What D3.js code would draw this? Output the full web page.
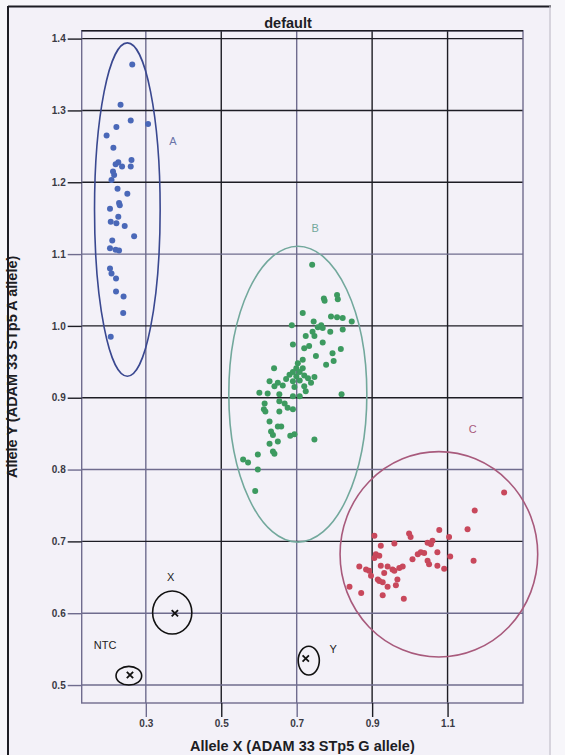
<!DOCTYPE html>
<html>
<head>
<meta charset="utf-8">
<script src="https://cdn.jsdelivr.net/npm/d3@7"></script>
<style>
  html, body { margin: 0; padding: 0; background: #f7f6fa; }
  svg { display: block; font-family: "Liberation Sans", Arial, sans-serif; }
</style>
</head>
<body>
<svg id="chart"></svg>
<script>
// cluster A (blue), B (green), C (red): [allele X, allele Y]
var pointsA = [[0.264,1.364],[0.233,1.308],[0.260,1.286],[0.306,1.281],[0.222,1.277],[0.196,1.265],
  [0.214,1.248],[0.227,1.228],[0.220,1.225],[0.237,1.222],[0.262,1.231],[0.260,1.222],[0.216,1.210],
  [0.209,1.203],[0.213,1.215],[0.225,1.191],[0.251,1.184],[0.231,1.168],[0.229,1.171],[0.205,1.163],
  [0.227,1.152],[0.207,1.145],[0.222,1.143],[0.244,1.139],[0.269,1.125],[0.211,1.119],[0.205,1.108],
  [0.220,1.106],[0.229,1.105],[0.205,1.080],[0.209,1.073],[0.221,1.066],[0.221,1.048],[0.241,1.041],
  [0.240,1.018],[0.207,0.985]];

var pointsB = [[0.741,1.085],[0.772,1.038],[0.774,1.035],[0.807,1.043],[0.809,1.037],[0.716,1.018],
  [0.791,1.013],[0.807,1.012],[0.822,1.011],[0.846,1.006],[0.745,1.006],[0.765,1.001],[0.769,0.997],
  [0.756,0.998],[0.687,1.001],[0.822,0.995],[0.789,0.992],[0.742,0.992],[0.724,0.986],[0.747,0.986],
  [0.769,0.977],[0.733,0.972],[0.720,0.969],[0.817,0.968],[0.795,0.962],[0.690,0.974],[0.751,0.958],
  [0.716,0.953],[0.703,0.948],[0.778,0.946],[0.798,0.951],[0.640,0.941],[0.699,0.941],[0.690,0.936],
  [0.708,0.936],[0.716,0.941],[0.681,0.932],[0.699,0.930],[0.720,0.931],[0.747,0.929],[0.672,0.926],
  [0.690,0.923],[0.708,0.924],[0.730,0.927],[0.628,0.923],[0.650,0.921],[0.663,0.917],[0.641,0.916],
  [0.694,0.915],[0.720,0.916],[0.738,0.921],[0.601,0.907],[0.623,0.906],[0.654,0.905],[0.724,0.909],
  [0.708,0.902],[0.690,0.902],[0.819,0.905],[0.654,0.895],[0.668,0.892],[0.615,0.892],[0.676,0.886],
  [0.690,0.884],[0.654,0.881],[0.613,0.884],[0.617,0.881],[0.628,0.867],[0.650,0.860],[0.632,0.853],
  [0.659,0.860],[0.637,0.848],[0.694,0.849],[0.683,0.847],[0.628,0.836],[0.650,0.839],[0.747,0.842],
  [0.637,0.825],[0.641,0.822],[0.597,0.821],[0.558,0.814],[0.571,0.810],[0.597,0.800],[0.590,0.770]];

var pointsC = [[1.250,0.768],[1.172,0.743],[1.153,0.717],[1.078,0.716],[0.998,0.711],[1.002,0.706],
  [0.906,0.708],[1.104,0.706],[1.047,0.698],[1.060,0.701],[1.056,0.696],[0.959,0.697],[0.923,0.694],
  [1.073,0.685],[0.910,0.682],[0.919,0.680],[0.906,0.677],[1.029,0.685],[1.038,0.684],[1.021,0.682],
  [1.107,0.679],[1.007,0.675],[1.169,0.673],[1.047,0.673],[1.051,0.668],[1.073,0.666],[0.866,0.665],
  [0.884,0.661],[0.892,0.659],[0.923,0.666],[0.941,0.665],[0.954,0.661],[0.972,0.663],[0.981,0.665],
  [1.091,0.662],[0.932,0.656],[0.959,0.659],[0.897,0.652],[0.915,0.647],[0.928,0.643],[0.919,0.645],
  [0.967,0.647],[0.963,0.639],[0.840,0.637],[0.941,0.637],[0.871,0.628],[0.928,0.625],[0.984,0.620]];

// cluster ellipses A, B, C
var clusterNames = ["A", "B", "C"];
var ellipseCx = [0.251, 0.703, 1.077];
var ellipseCy = [1.162, 0.905, 0.682];
var ellipseRx = [0.087, 0.183, 0.262];
var ellipseRy = [0.232, 0.206, 0.143];
var clusterLabelX = [0.372, 0.749, 1.167];
var clusterLabelY = [1.258, 1.136, 0.856];

// control samples
var controlNames = ["X", "Y", "NTC"];
var controlX = [0.377, 0.724, 0.258];
var controlY = [0.600, 0.537, 0.514];
var controlCx = [0.370, 0.732, 0.255];
var controlCy = [0.601, 0.534, 0.513];
var controlRx = [0.052, 0.028, 0.034];
var controlRy = [0.030, 0.020, 0.013];
var controlLabelX = [0.366, 0.797, 0.192];
var controlLabelY = [0.651, 0.550, 0.556];

var xTicks = [0.3, 0.5, 0.7, 0.9, 1.1];
var yTicks = [0.5, 0.6, 0.7, 0.8, 0.9, 1.0, 1.1, 1.2, 1.3, 1.4];
var lightX = [0.3, 0.7];
var lightY = [0.5, 0.6, 0.8, 1.1];

var width = 565, height = 755;
var plotLeft = 81.7, plotRight = 523, plotTop = 30.7, plotBottom = 703;
var dark = "#1d1d24", light = "#6f6c8e";

var svg = d3.select("#chart").attr("width", width).attr("height", height);

// frame
svg.append("rect").attr("x", 8).attr("y", 6).attr("width", 543).attr("height", 760)
  .attr("fill", "#f3f1f8").attr("stroke", "none");
svg.append("line").attr("x1", 8).attr("x2", 551).attr("y1", 6.5).attr("y2", 6.5)
  .attr("stroke", dark).attr("stroke-width", 2);
svg.append("line").attr("x1", 8).attr("x2", 8).attr("y1", 6).attr("y2", height)
  .attr("stroke", dark).attr("stroke-width", 2);
svg.append("line").attr("x1", 550).attr("x2", 550).attr("y1", 6).attr("y2", height)
  .attr("stroke", "#c4c2cc").attr("stroke-width", 1.2);

var x = d3.scaleLinear().domain([0.13, 1.30]).range([plotLeft, plotRight]);
var y = d3.scaleLinear().domain([0.475, 1.411]).range([plotBottom, plotTop]);

function lineColor(v, lightSet) {
  return lightSet.some(function(t){ return Math.abs(t - v) < 1e-6; }) ? light : dark;
}

// grid
svg.append("g").selectAll("line").data(xTicks).enter().append("line")
  .attr("x1", function(d){ return x(d); }).attr("x2", function(d){ return x(d); })
  .attr("y1", plotTop).attr("y2", plotBottom)
  .attr("stroke", function(d){ return lineColor(d, lightX); }).attr("stroke-width", 1.4);
svg.append("g").selectAll("line").data(yTicks).enter().append("line")
  .attr("x1", plotLeft).attr("x2", plotRight)
  .attr("y1", function(d){ return y(d); }).attr("y2", function(d){ return y(d); })
  .attr("stroke", function(d){ return lineColor(d, lightY); }).attr("stroke-width", 1.4);

// plot box
svg.append("rect").attr("x", plotLeft).attr("y", plotTop)
  .attr("width", plotRight - plotLeft).attr("height", plotBottom - plotTop)
  .attr("fill", "none").attr("stroke", light).attr("stroke-width", 1.4);
svg.append("line").attr("x1", plotLeft).attr("x2", plotRight).attr("y1", plotTop).attr("y2", plotTop)
  .attr("stroke", dark).attr("stroke-width", 1.4);

// axes
var xAxis = svg.append("g").attr("transform", "translate(0," + plotBottom + ")")
  .call(d3.axisBottom(x).tickValues(xTicks).tickSize(14).tickPadding(3).tickFormat(d3.format(".1f")));
xAxis.select(".domain").remove();
xAxis.selectAll(".tick line").attr("stroke", function(d){ return lineColor(d, lightX); }).attr("stroke-width", 1.4);

var yAxis = svg.append("g").attr("transform", "translate(" + plotLeft + ",0)")
  .call(d3.axisLeft(y).tickValues(yTicks).tickSize(14).tickPadding(2).tickFormat(d3.format(".1f")));
yAxis.select(".domain").remove();
yAxis.selectAll(".tick line").attr("stroke", function(d){ return lineColor(d, lightY); }).attr("stroke-width", 1.4);

svg.selectAll(".tick text").attr("font-size", 10).attr("fill", "#3a3a44")
  .attr("font-weight", "bold")
  .attr("font-family", "'Liberation Sans', Arial, sans-serif");

// titles
svg.append("text").attr("x", 288).attr("y", 28).attr("text-anchor", "middle")
  .attr("font-size", 14.5).attr("font-weight", "bold").attr("fill", "#1d1d24").text("default");
svg.append("text").attr("x", (plotLeft + plotRight) / 2).attr("y", 751).attr("text-anchor", "middle")
  .attr("font-size", 14.5).attr("font-weight", "bold").attr("fill", "#1d1d24")
  .text("Allele X (ADAM 33 STp5 G allele)");
svg.append("text").attr("transform", "translate(17," + ((plotTop + plotBottom) / 2) + ") rotate(-90)")
  .attr("text-anchor", "middle").attr("font-size", 14.5).attr("font-weight", "bold").attr("fill", "#1d1d24")
  .text("Allele Y (ADAM 33 STp5 A allele)");

// points
var pointColors = ["#4a68b8", "#3d9a60", "#c8485c"];
[pointsA, pointsB, pointsC].forEach(function(pts, i) {
  svg.append("g").selectAll("circle").data(pts).enter().append("circle")
    .attr("cx", function(d){ return x(d[0]); })
    .attr("cy", function(d){ return y(d[1]); })
    .attr("r", 3)
    .attr("fill", pointColors[i]);
});

// ellipses
var ellipseColors = ["#3a4890", "#72a89c", "#a85a7c"];
var labelColors = ["#6a74a8", "#72a89c", "#a85a7c"];
svg.append("g").selectAll("ellipse").data(clusterNames).enter().append("ellipse")
  .attr("cx", function(d, i){ return x(ellipseCx[i]); })
  .attr("cy", function(d, i){ return y(ellipseCy[i]); })
  .attr("rx", function(d, i){ return x(ellipseCx[i] + ellipseRx[i]) - x(ellipseCx[i]); })
  .attr("ry", function(d, i){ return y(ellipseCy[i]) - y(ellipseCy[i] + ellipseRy[i]); })
  .attr("fill", "none")
  .attr("stroke", function(d, i){ return ellipseColors[i]; })
  .attr("stroke-width", 1.6);
svg.append("g").selectAll("text").data(clusterNames).enter().append("text")
  .attr("x", function(d, i){ return x(clusterLabelX[i]); })
  .attr("y", function(d, i){ return y(clusterLabelY[i]) + 4; })
  .attr("text-anchor", "middle").attr("font-size", 11)
  .attr("fill", function(d, i){ return labelColors[i]; })
  .text(function(d){ return d; });

// controls
svg.append("g").selectAll("ellipse").data(controlNames).enter().append("ellipse")
  .attr("cx", function(d, i){ return x(controlCx[i]); })
  .attr("cy", function(d, i){ return y(controlCy[i]); })
  .attr("rx", function(d, i){ return x(controlCx[i] + controlRx[i]) - x(controlCx[i]); })
  .attr("ry", function(d, i){ return y(controlCy[i]) - y(controlCy[i] + controlRy[i]); })
  .attr("fill", "none").attr("stroke", "#111").attr("stroke-width", 1.6);
svg.append("g").selectAll("path").data(controlNames).enter().append("path")
  .attr("transform", function(d, i){ return "translate(" + x(controlX[i]) + "," + y(controlY[i]) + ")"; })
  .attr("d", d3.symbol().type(d3.symbolX).size(28))
  .attr("fill", "none").attr("stroke", "#111").attr("stroke-width", 1.8);
svg.append("g").selectAll("text").data(controlNames).enter().append("text")
  .attr("x", function(d, i){ return x(controlLabelX[i]); })
  .attr("y", function(d, i){ return y(controlLabelY[i]) + 4; })
  .attr("text-anchor", "middle").attr("font-size", 11).attr("fill", "#222")
  .text(function(d){ return d; });
</script>
</body>
</html>
